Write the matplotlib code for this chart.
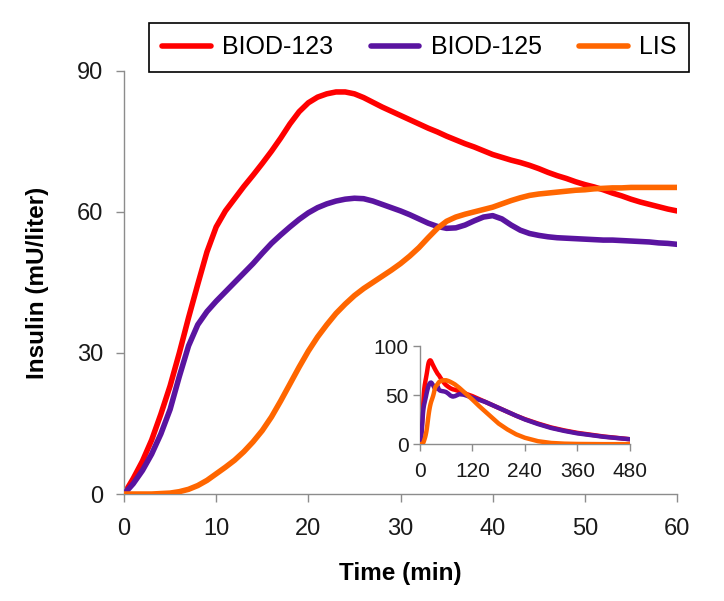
import numpy as np
import matplotlib.pyplot as plt

plt.rcParams['font.family'] = ['Liberation Sans', 'DejaVu Sans']

# time points (min) for the first hour, one per minute
t_main = list(range(0, 61))
biod123_main = [0, 3.3, 7, 11.5, 17, 23, 30, 37.5, 44.6, 51.5, 56.8, 60.2, 62.8,
                65.4, 67.8, 70.3, 72.9, 75.7, 78.7, 81.3, 83.2, 84.4, 85.1, 85.5,
                85.5, 85.1, 84.3, 83.3, 82.3, 81.4, 80.5, 79.6, 78.7, 77.8, 77, 76.1,
                75.3, 74.5, 73.8, 73, 72.2, 71.6, 71, 70.5, 69.9, 69.2, 68.4, 67.7,
                67.1, 66.4, 65.8, 65.3, 64.7, 64, 63.4, 62.7, 62.1, 61.6, 61.1,
                60.6, 60.2]
biod125_main = [0, 2.2, 5, 8.5, 12.8, 18, 25, 31.5, 36, 38.8, 41, 43, 45, 47,
                49, 51.2, 53.3, 55.1, 56.8, 58.4, 59.8, 60.9, 61.7, 62.3, 62.7,
                62.9, 62.8, 62.3, 61.6, 60.9, 60.2, 59.4, 58.5, 57.6, 56.9, 56.5,
                56.6, 57.2, 58.1, 58.9, 59.2, 58.5, 57.2, 56.1, 55.4, 55, 54.7,
                54.5, 54.4, 54.3, 54.2, 54.1, 54, 54, 53.9, 53.8, 53.7, 53.6,
                53.4, 53.3, 53.1]
lis_main = [0, 0, 0, 0, 0.1, 0.2, 0.5, 1, 1.8, 2.9, 4.3, 5.7, 7.2, 9, 11.1,
            13.5, 16.4, 19.8, 23.4, 27, 30.4, 33.4, 36, 38.4, 40.4, 42.2, 43.7,
            45, 46.3, 47.6, 49, 50.6, 52.4, 54.5, 56.5, 58, 58.9, 59.5, 60, 60.5,
            61, 61.7, 62.4, 63, 63.5, 63.8, 64, 64.2, 64.4, 64.6, 64.7, 64.9, 65,
            65.1, 65.1, 65.2, 65.2, 65.2, 65.2, 65.2, 65.2]

# later time points (min) shown only in the inset
t_tail = [65, 70, 75, 80, 90, 100, 110, 120, 135, 150, 165, 180, 200, 220, 240,
          270, 300, 330, 360, 420, 480]
biod123_tail = [58.5, 57, 56, 55.5, 54, 52.3, 50.6, 49, 46, 43, 40, 37, 33, 29,
                25.5, 21, 17, 14, 11.5, 7.8, 5]
biod125_tail = [51.5, 49.5, 48.5, 49, 51, 50.5, 49, 47.5, 45.3, 43, 40, 37, 33,
                29, 25.2, 20.5, 16.5, 13.5, 11, 7.5, 5]
lis_tail = [64.5, 63.5, 62.3, 61, 57.5, 53.5, 49.5, 45.5, 39, 33, 27, 21, 15, 10,
            6.5, 3, 1.2, 0.5, 0.2, 0, 0]

labels = ['BIOD-123', 'BIOD-125', 'LIS']
colors = ['#ff0000', '#5a14a0', '#ff6600']

main_series = [biod123_main, biod125_main, lis_main]
tail_series = [biod123_tail, biod125_tail, lis_tail]

fig = plt.figure(figsize=(7.24, 6.01), dpi=100)
ax = fig.add_axes([0.1713, 0.178, 0.7638, 0.7042])

for i in range(3):
    ax.plot(t_main, main_series[i], color=colors[i], lw=4, label=labels[i],
            solid_joinstyle='round', solid_capstyle='round', zorder=2 + i)

ax.set_xlim(0, 60)
ax.set_ylim(0, 90)
ax.set_xticks(range(0, 61, 10))
ax.set_yticks([0, 30, 60, 90])
for side in ['top', 'right']:
    ax.spines[side].set_visible(False)
for side in ['left', 'bottom']:
    ax.spines[side].set_color('#8c8c8c')
    ax.spines[side].set_linewidth(1)
ax.tick_params(axis='both', direction='out', length=6, width=1, color='#8c8c8c',
               labelsize=17, labelcolor='#1a1a1a')
ax.tick_params(axis='x', pad=11)
ax.tick_params(axis='y', pad=9)
ax.set_xlabel('Time (min)', fontsize=17.5, fontweight='bold', labelpad=16)
ax.set_ylabel('Insulin (mU/liter)', fontsize=17.5, fontweight='bold', labelpad=20)

leg = fig.legend(loc='center', bbox_to_anchor=(0.579, 0.921), ncol=3,
                 fontsize=18, frameon=True, fancybox=False, handlelength=1.95,
                 handletextpad=0.45, columnspacing=1.5, borderpad=0.5,
                 edgecolor='black', framealpha=1)
leg.get_frame().set_linewidth(1.2)

# inset with the full 8-hour profile
axin = fig.add_axes([0.580, 0.261, 0.290, 0.163])
for i in range(3):
    axin.plot(t_main + t_tail, main_series[i] + tail_series[i], color=colors[i],
              lw=3.2, solid_joinstyle='round', solid_capstyle='round', zorder=2 + i)
axin.set_xlim(0, 480)
axin.set_ylim(0, 100)
axin.set_xticks([0, 120, 240, 360, 480])
axin.set_yticks([0, 50, 100])
for side in ['top', 'right']:
    axin.spines[side].set_visible(False)
for side in ['left', 'bottom']:
    axin.spines[side].set_color('#8c8c8c')
    axin.spines[side].set_linewidth(1)
axin.tick_params(axis='both', direction='out', length=5, width=1, color='#8c8c8c',
                 labelsize=15, labelcolor='#1a1a1a')
axin.tick_params(axis='x', pad=8)
axin.tick_params(axis='y', pad=3)
axin.patch.set_alpha(0)

fig.savefig('out.png', dpi=100)
